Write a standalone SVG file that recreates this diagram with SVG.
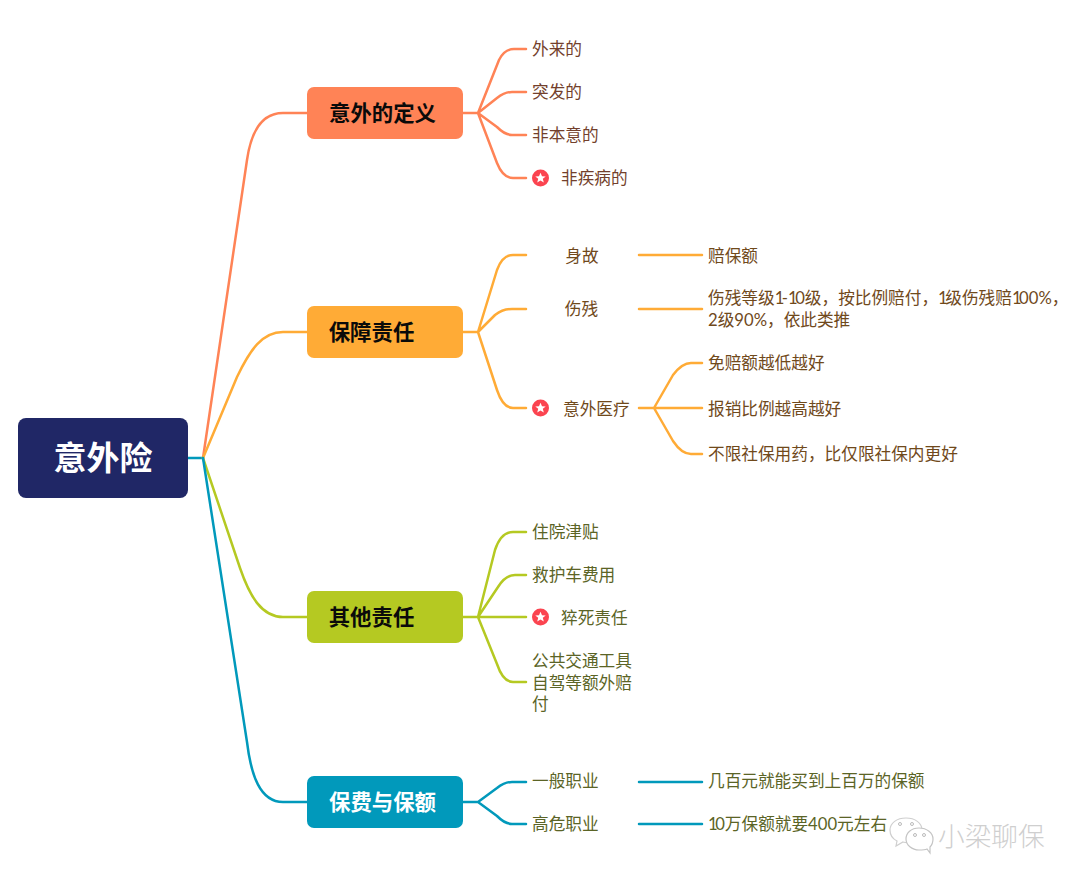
<svg xmlns="http://www.w3.org/2000/svg" width="1080" height="884" viewBox="0 0 1080 884">
<style>
text{font-family:"Lato","Noto Sans CJK SC",sans-serif;font-size:16.67px}
.c{fill:none;stroke-width:2.5;stroke-linecap:round;stroke-linejoin:round}
.o{stroke:#ff8356}.y{stroke:#ffab36}.g{stroke:#b5c922}.b{stroke:#0199bb}
.to{fill:#733f2c}.ty{fill:#70491b}.tg{fill:#5b6426}
.h{font-size:21.4px;font-weight:700;fill:#0a0a0a;text-anchor:middle}
.m{text-anchor:middle}
.s{fill:#fb4450}.st{fill:#fff}
.n{letter-spacing:-2.5px}
</style>
<defs>
<g id="star"><circle r="8.5" class="s"/><polygon class="st" points="0,-5.2 1.5,-1.7 5.2,-1.6 2.3,0.8 3.3,4.4 0,2.4 -3.3,4.4 -2.3,0.8 -5.2,-1.6 -1.5,-1.7"/></g>
</defs>
<rect width="1080" height="884" fill="#fff"/>
<g id="connectors">
<path class="c b" d="M188 458H203"/>
<path class="c o" d="M203 458L247 160C251 132 262 113 283 113H307"/>
<path class="c y" d="M203 458L237 377C250 350 262 332 283 332H307"/>
<path class="c g" d="M203 458L240 568C250 597 262 617 283 617H307"/>
<path class="c b" d="M203 458L247 742C251 775 260 802 283 802H307"/>
<path class="c o" d="M463 113H478L499 60C503 52 508 49 514 49H526M478 113L497 98C502 94 506 92 512 92H526M478 113L497 127C502 132 506 135 512 135H526M478 113L497 163C501 173 506 178 513 178H526"/>
<path class="c y" d="M463 332H478L497 270C501 259 506 255 513 255H526M478 332L495 315C500 311 505 309 512 309H526M478 332L497 390C501 402 506 408 513 408H526"/>
<path class="c y" d="M639 255H702M639 309H702M639 408H654L673 375C679 367 684 363 691 363H702M654 408H702M654 408L673 441C679 450 684 454 691 454H702"/>
<path class="c g" d="M463 617H478L495 550C499 538 505 532 513 532H526M478 617L498 587C503 579 508 575 515 575H526M478 617H526M478 617L497 664C501 676 506 682 513 682H526"/>
<path class="c b" d="M463 802H478L497 788C502 784 506 782 512 782H526M478 802L497 816C502 821 506 824 512 824H526"/>
<path class="c b" d="M639 782H702M639 824H702"/>
</g>
<g id="root"><rect x="18" y="418" width="170" height="80" rx="8" fill="#202766"/><text x="103" y="470" class="m" style="font-size:33px;font-weight:700;fill:#fff">意外险</text></g>
<g id="n-def"><rect x="307" y="87" width="156" height="52" rx="7" fill="#ff8356"/><text x="382.500" y="120.500" class="h">意外的定义</text></g>
<g id="n-duty"><rect x="307" y="306" width="156" height="52" rx="7" fill="#ffab36"/><text x="371.500" y="339.500" class="h">保障责任</text></g>
<g id="n-other"><rect x="307" y="591" width="156" height="52" rx="7" fill="#b5c922"/><text x="371.500" y="624.500" class="h">其他责任</text></g>
<g id="n-fee"><rect x="307" y="776" width="156" height="52" rx="7" fill="#0199bb"/><text x="382.500" y="809.500" class="h" style="fill:#fff">保费与保额</text></g>
<g id="d1"><text x="532" y="54.500" class="to">外来的</text></g>
<g id="d2"><text x="532" y="98" class="to">突发的</text></g>
<g id="d3"><text x="532" y="141" class="to">非本意的</text></g>
<g id="d4"><use href="#star" x="540.500" y="178"/><text x="561" y="184" class="to">非疾病的</text></g>
<g id="z1"><text x="582" y="261.500" class="ty m">身故</text></g>
<g id="z2"><text x="581.500" y="315" class="ty m">伤残</text></g>
<g id="z3"><use href="#star" x="540.500" y="408"/><text x="563" y="414.500" class="ty">意外医疗</text></g>
<g id="z1a"><text x="708" y="261.500" class="ty">赔保额</text></g>
<g id="z2a"><text x="708" y="304" class="ty">伤残等级<tspan class="n">1</tspan>-<tspan class="n">1</tspan>0级，按比例赔付，<tspan class="n">1</tspan>级伤残赔<tspan class="n">1</tspan>00%，</text><text x="708" y="326" class="ty">2级90%，依此类推</text></g>
<g id="z3a"><text x="708" y="369" class="ty">免赔额越低越好</text></g>
<g id="z3b"><text x="708" y="414.500" class="ty">报销比例越高越好</text></g>
<g id="z3c"><text x="708" y="459.500" class="ty">不限社保用药，比仅限社保内更好</text></g>
<g id="o1"><text x="532" y="537.500" class="tg">住院津贴</text></g>
<g id="o2"><text x="532" y="580.500" class="tg">救护车费用</text></g>
<g id="o3"><use href="#star" x="540.500" y="617"/><text x="561" y="623.500" class="tg">猝死责任</text></g>
<g id="o4"><text x="532" y="666.500" class="tg">公共交通工具</text><text x="532" y="688.500" class="tg">自驾等额外赔</text><text x="532" y="710" class="tg">付</text></g>
<g id="f1"><text x="532" y="787" class="tg">一般职业</text></g>
<g id="f2"><text x="532" y="829.500" class="tg">高危职业</text></g>
<g id="f1a"><text x="708" y="787" class="tg">几百元就能买到上百万的保额</text></g>
<g id="f2a"><text x="708" y="829.500" class="tg"><tspan class="n">1</tspan>0万保额就要400元左右</text></g>
<g id="watermark">
<path d="M906 818C897 818 890 823 890 830C890 835 893 839 897 841L896 846L903 842C905 842.500 908 843 911 842C918 841 922 836 922 830C922 823 915 818 906 818Z" fill="#fff" stroke="#cfcfcf" stroke-width="1.2"/>
<path d="M919 828C911 828 906 833 906 839C906 845 912 850 919 850C922 850 925 850 927 849L930 853L930 847C932 845 933 842 933 839C933 833 927 828 919 828Z" fill="#fff" stroke="#c4c4c4" stroke-width="1.2"/>
<circle cx="900" cy="824" r="1.500" fill="none" stroke="#bbb"/><circle cx="912" cy="824" r="1.500" fill="none" stroke="#bbb"/><circle cx="915" cy="835" r="1.500" fill="none" stroke="#bbb"/><circle cx="924" cy="835" r="1.500" fill="none" stroke="#bbb"/>
<text x="938" y="846" style="font-size:26.7px;fill:#cfcfcf;font-weight:300">小梁聊保</text>
</g>
</svg>
